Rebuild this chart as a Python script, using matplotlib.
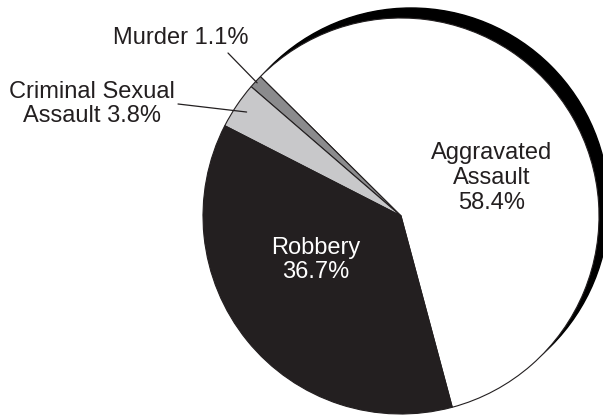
import matplotlib

matplotlib.use("Agg")
import matplotlib.pyplot as plt
import numpy as np
from matplotlib.patches import Circle

plt.rcParams["font.family"] = ["Liberation Sans", "DejaVu Sans"]

# Violent crime breakdown (percent of total)
categories = ["Aggravated Assault", "Murder", "Criminal Sexual Assault", "Robbery"]
shares = [58.4, 1.1, 3.8, 36.7]
slice_colors = ["#ffffff", "#8b8b8d", "#c8c8ca", "#231f20"]

INK = "#231f20"
W, H = 603, 418
CX, CY, R = 401, 202, 198
START = -75.0

fig = plt.figure(figsize=(W / 100, H / 100), dpi=100)
ax = fig.add_axes([0, 0, 1, 1])

# Offset black disc gives the rim shadow on the upper right
ax.add_patch(Circle((CX + 10, CY + 10), R, color="black", zorder=0))

wedges, _ = ax.pie(
    shares,
    colors=slice_colors,
    startangle=START,
    counterclock=True,
    center=(CX, CY),
    radius=R,
    wedgeprops=dict(edgecolor=INK, linewidth=0.8),
)
ax.set_xlim(0, W)
ax.set_ylim(0, H)
ax.set_aspect("equal")
ax.axis("off")

# mid angle of each slice, degrees
bounds = START + np.concatenate([[0], np.cumsum(shares)]) * 3.6
mids = (bounds[:-1] + bounds[1:]) / 2


def rim_point(i, frac):
    a = np.deg2rad(mids[i])
    return CX + R * frac * np.cos(a), CY + R * frac * np.sin(a)


fs = 17
ls = 1.17
ax.text(492, 240, f"Aggravated\nAssault\n{shares[0]}%", ha="center", va="center",
        fontsize=fs, color=INK, linespacing=ls)
ax.text(316, 158, f"Robbery\n{shares[3]}%", ha="center", va="center",
        fontsize=fs, color="white", linespacing=ls)

ax.text(181, 380, f"Murder {shares[1]}%", ha="center", va="center", fontsize=fs, color=INK)
ax.text(92, 314, f"Criminal Sexual\nAssault {shares[2]}%", ha="center", va="center",
        fontsize=fs, color=INK, linespacing=ls)

# leader lines from the outside labels into their slices
leader = dict(arrowstyle="-", color=INK, lw=0.9, shrinkA=0, shrinkB=0)
ax.annotate("", xy=rim_point(1, 0.99), xytext=(228, 365), arrowprops=leader)
ax.annotate("", xy=rim_point(2, 0.94), xytext=(178, 314), arrowprops=leader)

fig.savefig("out.png", dpi=100)
